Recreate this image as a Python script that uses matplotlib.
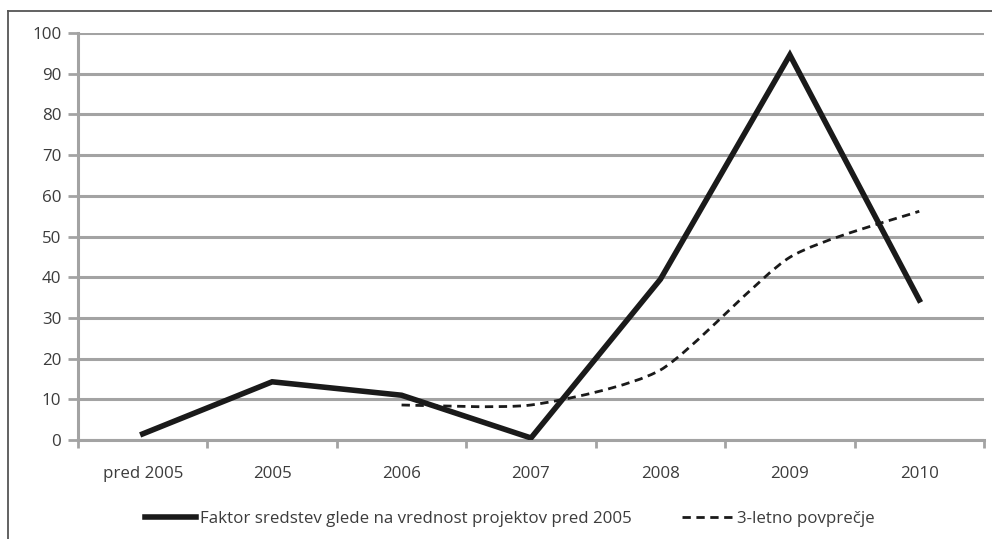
import matplotlib
matplotlib.use("Agg")
import matplotlib.pyplot as plt
from matplotlib.lines import Line2D
from matplotlib.path import Path
from matplotlib.patches import PathPatch
import numpy as np

plt.rcParams['font.family'] = ['Open Sans', 'DejaVu Sans']

categories = ["pred 2005", "2005", "2006", "2007", "2008", "2009", "2010"]
faktor = [1.5, 14.3, 11.0, 0.5, 39.5, 94.6, 34.4]
avg_categories = ["2006", "2007", "2008", "2009", "2010"]
avg3 = [8.6, 8.6, 17.2, 44.9, 56.2]

label_main = "Faktor sredstev glede na vrednost projektov pred 2005"
label_avg = "3-letno povprečje"

W, H = 992, 539
fig = plt.figure(figsize=(W / 100, H / 100), dpi=100)
ax = fig.add_axes([78 / W, 1 - 440 / H, (984 - 78) / W, (440 - 33) / H])

grid_c = "#a3a3a3"
text_c = "#3c3c3c"
fs = 12.2

x = np.arange(len(categories))
ax.set_xlim(-0.5, len(categories) - 0.5)
ax.set_ylim(0, 100)
ax.set_yticks(np.arange(0, 101, 10))
ax.yaxis.grid(True, color=grid_c, linewidth=2.2)
ax.set_axisbelow(True)

for s in ["top", "right"]:
    ax.spines[s].set_visible(False)
for s in ["left", "bottom"]:
    ax.spines[s].set_color(grid_c)
    ax.spines[s].set_linewidth(2.2)

ax.set_xticks(x)
ax.set_xticklabels(categories)
ax.set_xticks(np.arange(len(categories) + 1) - 0.5, minor=True)
ax.tick_params(axis="x", which="major", length=0, pad=19, labelsize=fs, labelcolor=text_c)
ax.tick_params(axis="x", which="minor", length=6, width=2, color=grid_c, direction="out")
ax.tick_params(axis="y", length=7, width=2, color=grid_c, pad=5, labelsize=fs, labelcolor=text_c)

# main series
ax.plot(x, faktor, color="#1a1a1a", linewidth=4, solid_joinstyle="miter", zorder=3)

# 3-year average as a gently smoothed curve (Catmull-Rom style cubic Bezier segments)
ax_pos = [categories.index(c) for c in avg_categories]
pts = np.column_stack([ax_pos, avg3]).astype(float)
verts = [tuple(pts[0])]
codes = [Path.MOVETO]
n = len(pts)
k = 1.0 / 9.0
for i in range(n - 1):
    p0 = pts[i - 1] if i > 0 else pts[i]
    p1 = pts[i]
    p2 = pts[i + 1]
    p3 = pts[i + 2] if i + 2 < n else pts[i + 1]
    c1 = p1 + (p2 - p0) * k
    c2 = p2 - (p3 - p1) * k
    verts += [tuple(c1), tuple(c2), tuple(p2)]
    codes += [Path.CURVE4] * 3
patch = PathPatch(Path(verts, codes), facecolor="none", edgecolor="#1a1a1a",
                  linewidth=2, linestyle=(0, (3, 2)), zorder=4)
ax.add_patch(patch)

handles = [
    Line2D([], [], color="#1a1a1a", linewidth=4),
    Line2D([], [], color="#1a1a1a", linewidth=2, linestyle=(0, (3, 2))),
]
fig.legend(handles, [label_main, label_avg], loc="center", bbox_to_anchor=(0.514, 1 - 519 / H),
           ncol=2, frameon=False, fontsize=fs, handlelength=3.0, handletextpad=0.25,
           columnspacing=3.0, labelcolor=text_c, borderpad=0.2)

# outer chart frame
frame_c = "#555555"
fig.add_artist(Line2D([8 / W, 1.0], [1 - 11 / H, 1 - 11 / H], transform=fig.transFigure,
                      color=frame_c, linewidth=1.3))
fig.add_artist(Line2D([8 / W, 8 / W], [0.0, 1 - 11 / H], transform=fig.transFigure,
                      color=frame_c, linewidth=1.3))

fig.savefig("out.png", dpi=100, facecolor="white")
